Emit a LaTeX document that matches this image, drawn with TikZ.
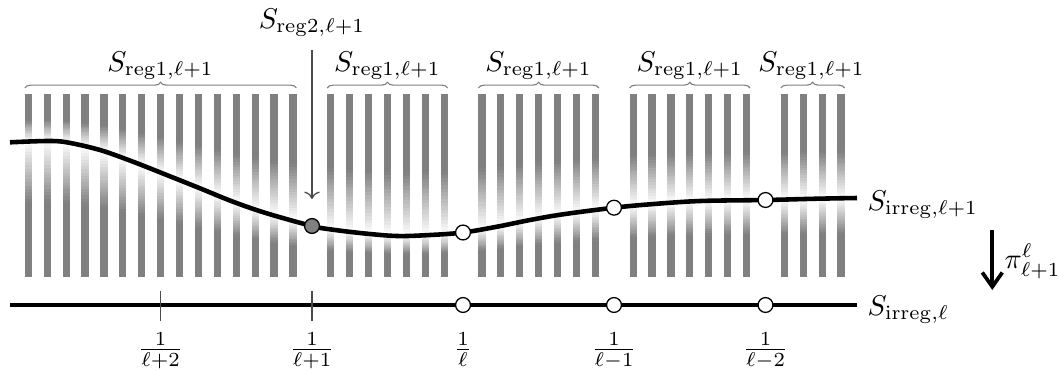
\documentclass[tikz,border=0pt]{standalone}
\usetikzlibrary{decorations.pathreplacing,arrows.meta}
\begin{document}
\begin{tikzpicture}[x=0.35pt,y=-0.35pt,
  curveline/.style={line width=1.6pt, black},
  opendot/.style={circle, draw=black, line width=0.45pt, fill=white, minimum size=5.2pt, inner sep=0pt},
  graydot/.style={opendot, fill=gray},
  tickline/.style={line width=0.45pt, black!70},
  bracestyle/.style={decorate, decoration={brace, amplitude=2pt}, line width=0.4pt, black!50},
  thinarrow/.style={->, line width=0.45pt, black!70},
  bigarrow/.style={-{Straight Barb[length=5pt,width=7pt]}, line width=1.3pt},
  lbl/.style={inner sep=0pt},
]
\useasboundingbox (0,0) rectangle (1059,370);

% bars with stepped fades around the curve
\foreach \bx/\by in {28.3/141.5, 47.2/141, 66.1/142.3, 85.0/146.5, 103.9/151.3, 122.8/158.1,
  141.7/165.1, 160.6/172.5, 179.5/180.1, 198.4/187.7, 217.3/195.3, 236.2/202.8, 255.1/209.3,
  274.0/215.3, 292.9/220.6, 330.7/229.4, 349.6/231.7, 368.5/233.7, 387.4/235.3, 406.3/235.9,
  425.2/235.2, 444.1/234.0, 481.9/229.3, 500.8/226.0, 519.7/222.0, 538.6/218.5, 557.5/215.3,
  576.4/212.6, 595.3/210.0, 633.1/205.9, 652.0/204.2, 670.9/202.8, 689.8/201.7, 708.7/200.9,
  727.6/200.6, 746.5/200.3, 784.3/199.5, 803.2/199.0, 822.1/198.6, 841.0/198.3}{
  \pgfmathsetmacro\mA{94+0.55*(\by-94)}
  \pgfmathsetmacro\mB{\by+0.45*(277-\by)}
  \fill[gray] (\bx-3.6,94) rectangle (\bx+3.6,\mA+0.5);
  \fill[gray] (\bx-3.6,\mB-0.5) rectangle (\bx+3.6,277);
  \foreach \i in {0,...,17}{
    \pgfmathsetmacro\ya{\mA+(\by-\mA)*\i/18}
    \pgfmathsetmacro\yb{\mA+(\by-\mA)*(\i+1)/18+0.5}
    \pgfmathsetmacro\ca{50*(1-(\i+0.5)/18)}
    \fill[black!\ca] (\bx-3.6,\ya) rectangle (\bx+3.6,\yb);
    \pgfmathsetmacro\yc{\by+(\mB-\by)*\i/18}
    \pgfmathsetmacro\yd{\by+(\mB-\by)*(\i+1)/18+0.5}
    \pgfmathsetmacro\cb{50*(\i+0.5)/18}
    \fill[black!\cb] (\bx-3.6,\yc) rectangle (\bx+3.6,\yd);
  }
}

% braces and labels
\draw[bracestyle] (24.8,88) -- (296.4,88);
\draw[bracestyle] (327.2,88) -- (447.6,88);
\draw[bracestyle] (478.4,88) -- (598.8,88);
\draw[bracestyle] (629.6,88) -- (750.0,88);
\draw[bracestyle] (780.8,88) -- (844.5,88);
\node[lbl, anchor=base] (g1) at (160.6,71) {$S_{\mathrm{reg}1,\ell+1}$};
\node[lbl, anchor=base] (g2) at (387.4,71) {$S_{\mathrm{reg}1,\ell+1}$};
\node[lbl, anchor=base] (g3) at (538.6,71) {$S_{\mathrm{reg}1,\ell+1}$};
\node[lbl, anchor=base] (g4) at (689.8,71) {$S_{\mathrm{reg}1,\ell+1}$};
\node[lbl, anchor=base] (g5) at (811.5,71) {$S_{\mathrm{reg}1,\ell+1}$};

% upper curve
\draw[curveline] plot[smooth, tension=0.55] coordinates {(10,142.3) (46.7,141) (66.7,142.3) (100,150)
  (133,161.7) (166.7,175) (200,188.3) (233,201.7) (266.7,213.3) (312,226) (330,229.3) (363,233.3)
  (397,236) (430,235) (463,232.5) (497,226.7) (530,220) (563,214.3) (614,207.7) (650,204.3)
  (700,201) (766,200) (817,198.7) (857,198)};

% reg2 label and arrow
\node[lbl, anchor=base] (lreg2) at (312,28) {$S_{\mathrm{reg}2,\ell+1}$};
\coordinate (a2s) at (312,50);
\coordinate (a2e) at (312,199);
\draw[thinarrow] (a2s) -- (a2e);

% points on upper curve
\node[graydot] (d0) at (312,226) {};
\node[opendot] (d1) at (463,232.5) {};
\node[opendot] (d2) at (614,207.7) {};
\node[opendot] (d3) at (765.5,200) {};

% lower line
\draw[curveline] (10,305) -- (857,305);
\draw[tickline] (160.6,291) -- (160.6,321);
\draw[tickline] (312,291) -- (312,321);
\node[opendot] (b1) at (463,305) {};
\node[opendot] (b2) at (614,305) {};
\node[opendot] (b3) at (765.5,305) {};

% fractions
\node[lbl, anchor=north] (f0) at (160.6,332) {$\frac{1}{\ell+2}$};
\node[lbl, anchor=north] (f1) at (312,332) {$\frac{1}{\ell+1}$};
\node[lbl, anchor=north] (f2) at (463,332) {$\frac{1}{\ell}$};
\node[lbl, anchor=north] (f3) at (614,332) {$\frac{1}{\ell-1}$};
\node[lbl, anchor=north] (f4) at (765.5,332) {$\frac{1}{\ell-2}$};

% right labels
\node[lbl, anchor=base west] (lup) at (867,210) {$S_{\mathrm{irreg},\ell+1}$};
\node[lbl, anchor=base west] (llo) at (867,315) {$S_{\mathrm{irreg},\ell}$};
\coordinate (pis) at (992.3,230);
\coordinate (pie) at (992.3,290);
\draw[bigarrow] (pis) -- (pie);
\node[lbl, anchor=base west] (lpi) at (1004,268) {$\pi^{\ell}_{\ell+1}$};
\end{tikzpicture}
\end{document}
